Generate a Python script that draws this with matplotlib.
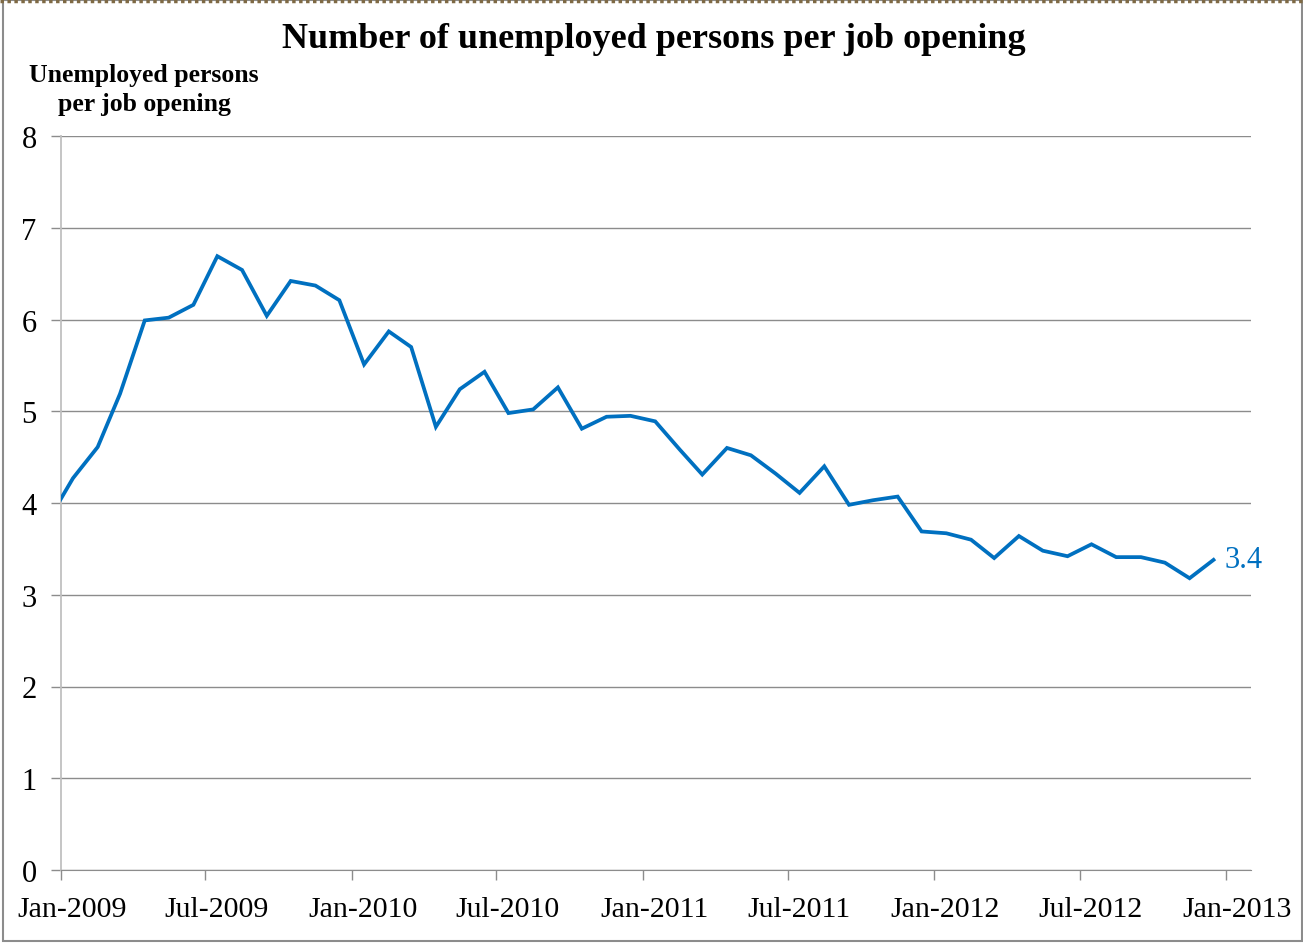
import matplotlib
matplotlib.use("Agg")
import matplotlib.pyplot as plt
import matplotlib.dates as mdates
import matplotlib.transforms as mtransforms
from matplotlib.patches import Rectangle
from matplotlib.lines import Line2D
import pandas as pd

# monthly ratio, Dec-2008 .. Dec-2012 (Dec-2008 only shows as the clipped first segment)
months = pd.date_range("2008-12-01", "2012-12-01", freq="MS")
ratio = [3.81,
         4.27, 4.61, 5.19, 5.99, 6.02, 6.16, 6.69, 6.54, 6.04, 6.42, 6.37, 6.21,
         5.51, 5.87, 5.70, 4.83, 5.24, 5.43, 4.98, 5.02, 5.26, 4.81, 4.94, 4.95,
         4.89, 4.58, 4.31, 4.60, 4.52, 4.32, 4.11, 4.40, 3.98, 4.03, 4.07, 3.69,
         3.67, 3.60, 3.40, 3.64, 3.48, 3.42, 3.55, 3.41, 3.41, 3.35, 3.18, 3.38]
last_label = "3.4"
title = "Number of unemployed persons per job opening"
ytitle = "Unemployed persons\nper job opening"

plt.rcParams['font.family'] = ['Liberation Serif', 'DejaVu Serif']
blue = "#0070C0"
grid_gray = "#8C8C8C"

fig = plt.figure(figsize=(13.03, 9.45), dpi=100)
ax = fig.add_axes([61 / 1303, 1 - 871 / 945, 1190 / 1303, 734 / 945])

# points sit in the middle of each month (Excel "between tick marks")
xs = months + pd.Timedelta(days=15)
ax.plot(xs, ratio, color=blue, lw=2.7, solid_joinstyle="miter", zorder=3)
ax.annotate(last_label, (xs[-1], ratio[-1]), xytext=(8, 0), textcoords="offset points",
            color=blue, fontsize=22, va="center", ha="left", annotation_clip=False)

ax.set_xlim(pd.Timestamp("2009-01-01"), pd.Timestamp("2013-02-01"))
ax.set_ylim(0, 8)
ax.set_yticks(range(0, 9))
ax.xaxis.set_major_formatter(mdates.DateFormatter("%b-%Y"))
ticks = [t for t in pd.date_range("2009-01-01", "2013-01-01", freq="6MS")]
ax.set_xticks(ticks)

ax.grid(axis="y", color=grid_gray, lw=1)
ax.tick_params(axis="y", length=7.5, width=1, color=grid_gray, labelsize=22, pad=10)
ax.tick_params(axis="x", length=7.5, width=1, color=grid_gray, labelsize=21.5, pad=11)
# month labels are centred on the month, a bit right of the tick
shift = mtransforms.ScaledTranslation(11 / 100, 0, fig.dpi_scale_trans)
for lbl in ax.get_xticklabels():
    lbl.set_transform(lbl.get_transform() + shift)
for s in ["top", "right"]:
    ax.spines[s].set_visible(False)
ax.spines["left"].set_color("#C0C0C0")
ax.spines["left"].set_linewidth(1.3)
ax.spines["bottom"].set_color(grid_gray)

fig.text(654 / 1303, 1 - 40 / 945, title, ha="center", va="center",
         fontsize=26, fontweight="bold")
fig.text(144 / 1303, 1 - 90 / 945, ytitle, ha="center", va="center",
         fontsize=18.5, fontweight="bold", linespacing=1.3)

# outer frame like the pasted chart
fig.patches.append(Rectangle((2.5 / 1303, 3 / 945), 1299 / 1303, 941 / 945,
                             transform=fig.transFigure, fill=False,
                             edgecolor="#8C8C8C", lw=1.5))
fig.lines.append(Line2D([0, 1], [1 - 1.5 / 945, 1 - 1.5 / 945], transform=fig.transFigure,
                        color="#7F6A45", lw=2.5, ls=(0, (1, 1))))

fig.savefig("out.png", dpi=100)
